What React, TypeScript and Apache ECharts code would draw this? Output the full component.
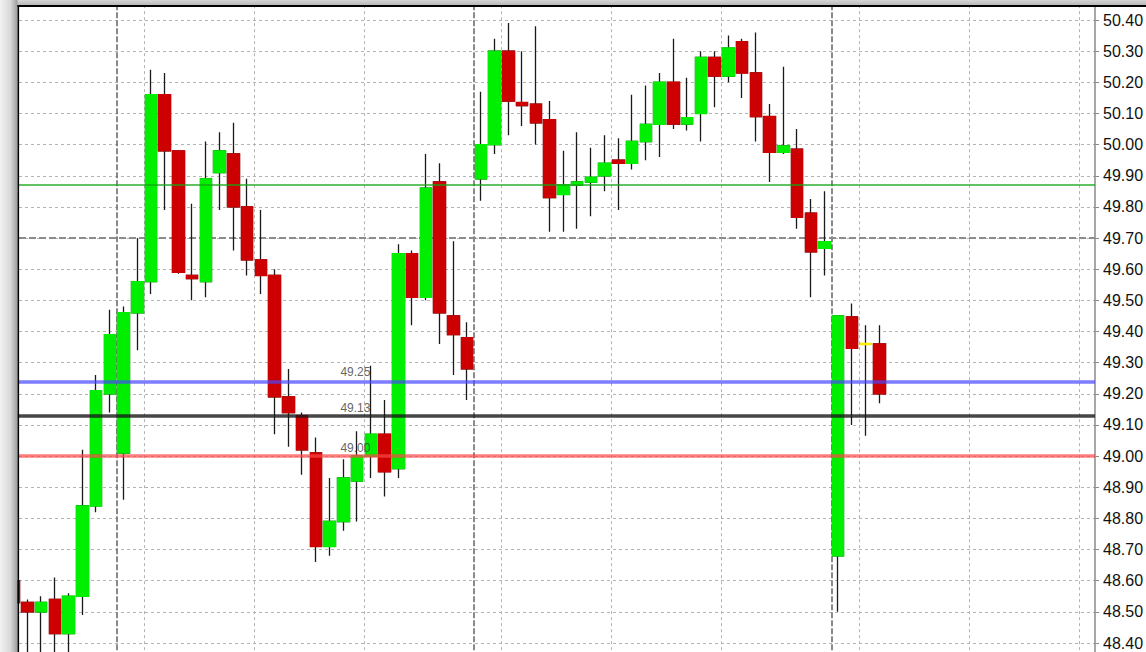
import React, { useEffect, useRef } from 'react';
import * as echarts from 'echarts';

// ---- data (bar index, OHLC) ----
const barIndex = Array.from({ length: 64 }, (_, i) => i);
const opens = [
  48.60, 48.53, 48.50, 48.54, 48.43, 48.55, 48.84, 49.20, 49.01, 49.46,
  49.56, 50.16, 49.98, 49.58, 49.56, 49.91, 49.97, 49.80, 49.63, 49.58,
  49.19, 49.13, 49.01, 48.71, 48.79, 48.92, 49.00, 49.07, 48.96, 49.65,
  49.51, 49.88, 49.45, 49.38, 49.89, 50.00, 50.30, 50.135, 50.13, 50.08,
  49.84, 49.87, 49.88, 49.90, 49.95, 49.94, 50.01, 50.065, 50.20, 50.066,
  50.10, 50.28, 50.22, 50.33, 50.23, 50.09, 49.975, 49.985, 49.78, 49.667,
  48.68, 49.447, 49.36, 49.36,
];
const closes = [
  48.53, 48.50, 48.53, 48.43, 48.55, 48.84, 49.21, 49.39, 49.46, 49.56,
  50.16, 49.98, 49.59, 49.57, 49.89, 49.98, 49.80, 49.63, 49.58, 49.19,
  49.14, 49.02, 48.71, 48.79, 48.93, 49.00, 49.07, 48.95, 49.65, 49.51,
  49.86, 49.46, 49.39, 49.28, 50.00, 50.30, 50.14, 50.125, 50.07, 49.83,
  49.87, 49.88, 49.895, 49.94, 49.94, 50.01, 50.065, 50.20, 50.066, 50.086,
  50.28, 50.22, 50.31, 50.23, 50.09, 49.975, 49.996, 49.767, 49.656, 49.688,
  49.45, 49.346, 49.36, 49.20,
];
const lows = [
  48.46, 48.33, 48.33, 48.30, 48.34, 48.49, 48.82, 49.14, 48.86, 49.34,
  49.52, 49.79, 49.585, 49.50, 49.51, 49.79, 49.66, 49.58, 49.52, 49.07,
  49.03, 48.94, 48.66, 48.68, 48.76, 48.79, 48.93, 48.87, 48.93, 49.42,
  49.50, 49.36, 49.26, 49.18, 49.82, 49.97, 50.03, 50.06, 50.00, 49.72,
  49.72, 49.73, 49.77, 49.85, 49.79, 49.92, 49.95, 49.96, 50.05, 50.045,
  50.01, 50.12, 50.20, 50.15, 50.01, 49.88, 49.97, 49.73, 49.51, 49.58,
  48.50, 49.10, 49.065, 49.17,
];
const highs = [
  48.63, 48.54, 48.55, 48.61, 48.56, 49.02, 49.26, 49.47, 49.48, 49.70,
  50.24, 50.23, 49.98, 49.81, 50.01, 50.04, 50.07, 49.89, 49.79, 49.60,
  49.28, 49.14, 49.06, 48.93, 48.99, 49.08, 49.29, 49.18, 49.68, 49.66,
  49.97, 49.94, 49.69, 49.43, 50.17, 50.34, 50.39, 50.30, 50.38, 50.14,
  49.98, 50.04, 49.99, 50.03, 50.02, 50.16, 50.19, 50.23, 50.34, 50.215,
  50.30, 50.30, 50.35, 50.34, 50.36, 50.13, 50.25, 50.05, 49.825, 49.85,
  49.45, 49.49, 49.42, 49.42,
];

// price axis
const priceMin = 48.3;
const priceMax = 50.5;
const priceStep = 0.1;

// horizontal levels
const levelPrices = [49.87, 49.70, 49.245, 49.13, 49.00];
const levelLabels = ['', '', '49.25', '49.13', '49.00'];
const labelAnchorBar = 26;

// vertical lines (bar positions)
const periodSeparators = [7.5, 33.5, 59.5];
const timeGridLines = [9.5, 17.5, 25.5, 35.5, 43.5, 51.5, 61.5, 69.5, 77.5];

// ---- layout ----
const W = 1146;
const H = 652;
const Y_TOP_LABEL = 20; // pixel of 50.40
const PX_PER_UNIT = 311.5;
const GRID_LEFT = 19;
const AXIS_X = 1095;
const BAR_PX = 13.745;
const BAR0_X = 13.55;

const levelStyles = [
  { color: 'rgba(20,165,20,0.9)', width: 1.5, type: 'solid' },
  { color: '#8c8c8c', width: 2, type: [7, 3] },
  { color: 'rgba(70,70,255,0.7)', width: 3.5, type: 'solid' },
  { color: 'rgba(25,25,25,0.8)', width: 3.5, type: 'solid' },
  { color: 'rgba(255,70,70,0.7)', width: 3.5, type: 'solid' },
];

const UP = '#00ee00';
const DOWN = '#cc0000';
const DOJI = '#ffee00';

export default function App() {
  const ref = useRef<HTMLDivElement>(null);

  useEffect(() => {
    if (!ref.current) return;
    const chart = echarts.init(ref.current, null, { renderer: 'svg' });

    const gridTop = Y_TOP_LABEL - (priceMax - 50.4) * PX_PER_UNIT;
    const gridBottomPx = Y_TOP_LABEL + (50.4 - priceMin) * PX_PER_UNIT;
    const xMin = (GRID_LEFT - BAR0_X) / BAR_PX;
    const xMax = (AXIS_X - BAR0_X) / BAR_PX;

    const wickData = barIndex.map((x, i) => [x, opens[i], closes[i], lows[i], highs[i]]);
    const bodyData = barIndex.map((x, i) => {
      const o = opens[i];
      const c = closes[i];
      const item: any = { value: [x, o, c, Math.min(o, c), Math.max(o, c)] };
      if (Math.abs(o - c) < 0.004) {
        item.itemStyle = {
          color: DOJI, color0: DOJI, borderColor: DOJI, borderColor0: DOJI, borderWidth: 2.5,
        };
      }
      return item;
    });

    const verticalMarks = [
      ...timeGridLines.map((v) => ({
        xAxis: v,
        lineStyle: { color: '#b4b4b4', type: [3, 3], width: 1 },
      })),
      ...periodSeparators.map((v) => ({
        xAxis: v,
        lineStyle: { color: '#6e6e6e', type: [6, 2], width: 1.6 },
      })),
      {
        yAxis: levelPrices[1],
        lineStyle: levelStyles[1],
      },
    ];

    const levelMarks = levelPrices
      .map((p, i) => ({ yAxis: p, lineStyle: levelStyles[i] }))
      .filter((_, i) => i !== 1);

    const labelData = levelPrices
      .map((p, i) => [labelAnchorBar, p, levelLabels[i]])
      .filter((d) => d[2] !== '');

    chart.setOption({
      animation: false,
      backgroundColor: '#ffffff',
      grid: {
        left: GRID_LEFT,
        right: W - AXIS_X,
        top: gridTop,
        bottom: H - gridBottomPx,
        containLabel: false,
        outerBoundsMode: 'none',
      },
      xAxis: {
        type: 'value',
        min: xMin,
        max: xMax,
        show: true,
        axisLine: { show: false },
        axisTick: { show: false },
        axisLabel: { show: false },
        splitLine: { show: false },
      },
      yAxis: {
        type: 'value',
        position: 'right',
        min: priceMin,
        max: priceMax,
        interval: priceStep,
        axisLine: { show: true, lineStyle: { color: '#8a8a8a', width: 1.5 } },
        axisTick: { show: true, length: 4, lineStyle: { color: '#8a8a8a' } },
        axisLabel: {
          margin: 8,
          color: '#111',
          fontSize: 16,
          fontFamily: 'Liberation Sans',
          formatter: (v: number) =>
            v > priceMax - priceStep / 2 || v < priceMin + priceStep / 2 ? '' : v.toFixed(2),
        },
        splitLine: { show: true, lineStyle: { color: '#b4b4b4', type: [3, 3], width: 1 } },
      },
      series: [
        {
          type: 'candlestick',
          name: 'wicks',
          z: 2,
          barWidth: 12,
          data: wickData,
          itemStyle: {
            color: 'transparent', color0: 'transparent',
            borderColor: '#1a1a1a', borderColor0: '#1a1a1a', borderWidth: 1.3,
          },
          markLine: {
            z: 1,
            silent: true,
            symbol: ['none', 'none'],
            label: { show: false },
            data: verticalMarks,
          },
        },
        {
          type: 'candlestick',
          name: 'bodies',
          z: 3,
          barWidth: 12,
          data: bodyData,
          itemStyle: {
            color: UP, color0: DOWN, borderColor: UP, borderColor0: DOWN, borderWidth: 1.4,
          },
          markLine: {
            z: 6,
            silent: true,
            symbol: ['none', 'none'],
            label: { show: false },
            data: levelMarks,
          },
        },
        {
          type: 'scatter',
          name: 'levelLabels',
          z: 7,
          symbol: 'circle',
          symbolSize: 1,
          itemStyle: { color: 'transparent' },
          data: labelData,
          label: {
            show: true,
            position: 'left',
            distance: 0,
            offset: [0, -8],
            formatter: (p: any) => p.value[2],
            color: '#3a3a3a',
            fontSize: 12,
            fontFamily: 'Liberation Sans',
          },
        },
      ],
      graphic: [
        {
          type: 'rect',
          z: 100,
          shape: { x: 0, y: 0, width: W, height: 5 },
          style: {
            fill: new echarts.graphic.LinearGradient(0, 0, 0, 1, [
              { offset: 0, color: '#d6d6d6' },
              { offset: 1, color: '#b8b8b8' },
            ]),
          },
        },
        {
          type: 'rect',
          z: 100,
          shape: { x: 0, y: 0, width: 17.5, height: H },
          style: {
            fill: new echarts.graphic.LinearGradient(0, 0, 1, 0, [
              { offset: 0, color: '#f2f2f2' },
              { offset: 0.6, color: '#d8d8d8' },
              { offset: 1, color: '#9c9c9c' },
            ]),
          },
        },
        {
          type: 'rect',
          z: 101,
          shape: { x: 17.5, y: 5, width: W - 17.5, height: 2 },
          style: { fill: '#000' },
        },
        {
          type: 'rect',
          z: 101,
          shape: { x: 17.5, y: 5, width: 1.6, height: H },
          style: { fill: '#000' },
        },
      ],
    });

    return () => chart.dispose();
  }, []);

  return (
    <div
      ref={ref}
      style={{ position: 'fixed', left: 0, top: 0, width: W, height: H, overflow: 'hidden' }}
    />
  );
}
